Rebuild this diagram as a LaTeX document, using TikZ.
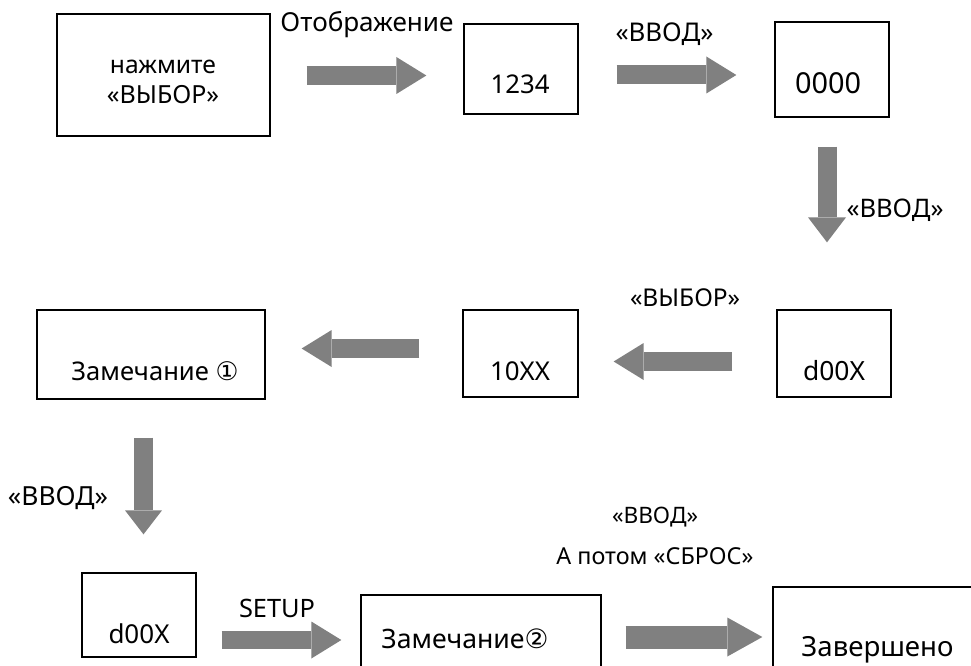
\documentclass[tikz,border=0pt]{standalone}
\usepackage{fontspec}
\setmainfont{Noto Sans}
\newfontfamily\symfont{DejaVu Sans}
\usetikzlibrary{arrows.meta,calc}
\newcommand\fw[2]{\resizebox{#1pt}{!}{#2}}
\tikzset{
  box/.style={draw, line width=1.3pt, inner sep=0pt},
  txt/.style={anchor=base, inner sep=0pt},
  blk/.style={draw=gray, line width=19pt, -{Triangle[width=37pt,length=30pt,line width=0pt]}},
}
\begin{document}
\begin{tikzpicture}[x=1pt,y=-1pt]
\useasboundingbox (0,0) rectangle (971,666);
\clip (0,0) rectangle (971,666);
% boxes
\node[box, minimum width=213pt, minimum height=122pt] (b1) at (163.5,75) {};
\node[box, minimum width=114pt, minimum height=90pt] (b2) at (521,69) {};
\node[box, minimum width=114pt, minimum height=95pt] (b3) at (832,69.5) {};
\node[box, minimum width=114pt, minimum height=87pt] (b4) at (834,353.5) {};
\node[box, minimum width=115pt, minimum height=87pt] (b5) at (520.5,353.5) {};
\node[box, minimum width=228pt, minimum height=89pt] (b6) at (151,354.5) {};
\node[box, minimum width=114pt, minimum height=84pt] (b7) at (139,615) {};
\node[box, minimum width=240pt, minimum height=105pt] (b8) at (481,647.5) {};
\node[box, minimum width=237pt, minimum height=113pt] (b9) at (891.5,643.5) {};
% texts in boxes
\node[txt] (t1a) at (163,74) {\fw{106}{нажмите}};
\node[txt] (t1b) at (163,104) {\fw{112}{«ВЫБОР»}};
\node[txt] (t2) at (520,94) {\fw{59}{1234}};
\node[txt] (t3) at (828,94) {\fw{66}{0000}};
\node[txt] (t4) at (834,380) {\fw{62}{d00X}};
\node[txt] (t5) at (520,380) {\fw{60}{10XX}};
\node[txt] (t6) at (155,380) {\fw{167}{Замечание {\symfont ①}}};
\node[txt] (t7) at (139,643) {\fw{61}{d00X}};
\node[txt] (t8) at (465,648) {\fw{167}{Замечание{\symfont ②}}};
\node[txt] (t9) at (877.5,656) {\fw{152}{Завершено}};
% labels
\node[txt] (l1) at (367,32) {\fw{173}{Отображение}};
\node[txt] (l2) at (664.5,42) {\fw{98}{«ВВОД»}};
\node[txt] (l3) at (895,217) {\fw{97}{«ВВОД»}};
\node[txt] (l4) at (685,306) {\fw{110}{«ВЫБОР»}};
\node[txt] (l5) at (58,505) {\fw{100}{«ВВОД»}};
\node[txt] (l6) at (277,617) {\fw{76}{SETUP}};
\node[txt] (l7) at (655,523) {\fw{86}{«ВВОД»}};
\node[txt] (l8) at (655,564) {\fw{197}{А потом «СБРОС»}};
% arrows
\draw[blk] ($(b1.east)+(36,0.5)$) -- ($(b2.west|-b1.east)+(-37,0.5)$);
\draw[blk] ($(b2.east)+(38,6)$) -- ($(b3.west|-b2.east)+(-38,6)$);
\draw[blk, -{Triangle[width=38pt,length=25pt,line width=0pt]}] ($(b3.south)+(-5,29)$) -- ($(b4.north)+(-7,-67)$);
\draw[blk] ($(b4.west)+(-44,8)$) -- ($(b5.east)+(35,8)$);
\draw[blk] ($(b5.west)+(-43,-5)$) -- ($(b6.east|-b5.west)+(36,-5)$);
\draw[blk, -{Triangle[width=37pt,length=24pt,line width=0pt]}] ($(b6.south)+(-7.5,38)$) -- ($(b7.north)+(4.5,-38)$);
\draw[blk, line width=18pt] ($(b7.east)+(25,25)$) -- ($(b8.west|-b7.east)+(-19,25)$);
\draw[blk, line width=23pt, -{Triangle[width=39pt,length=35pt,line width=0pt]}] ($(b8.east)+(24,-10.5)$) -- ($(b9.west|-b8.east)+(-10,-10.5)$);
\end{tikzpicture}
\end{document}
